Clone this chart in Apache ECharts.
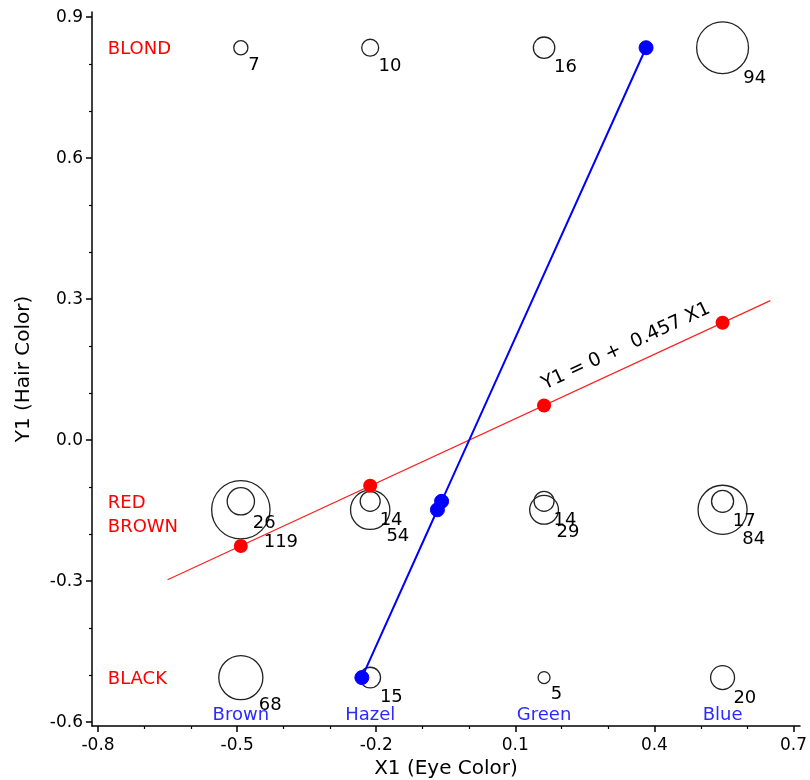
<!DOCTYPE html>
<html>
<head>
<meta charset="utf-8">
<script src="https://cdn.jsdelivr.net/npm/echarts@6/dist/echarts.min.js"></script>
<style>
html, body { margin: 0; padding: 0; background: #fff; }
#chart_01 { width: 810px; height: 780px; }
</style>
</head>
<body>
<div id="chart_01"></div>
<script>
'use strict';

// eye colour (X1) and hair colour (Y1) scores
var eyeNames = ['Brown', 'Hazel', 'Green', 'Blue'],
    eyeScore = [-0.492, -0.213, 0.162, 0.547],
    hairNames = ['BLACK', 'BROWN', 'RED', 'BLOND'],
    hairScore = [-0.505, -0.148, -0.130, 0.835];

// counts per hair colour, in eye order Brown, Hazel, Green, Blue
var countBlack = [68, 15, 5, 20],
    countBrown = [119, 54, 29, 84],
    countRed = [26, 14, 14, 17],
    countBlond = [7, 10, 16, 94];

// red dots: mean Y1 for each eye colour, blue dots: mean X1 for each hair colour
var hairMeanByEye = [-0.225, -0.097, 0.074, 0.250],
    eyeMeanByHair = [-0.231, -0.068, -0.059, 0.382];

// regression line Y1 = 0 + 0.457 X1
var fitX = [-0.65, 0.65],
    fitY = [-0.297, 0.297],
    eqText = 'Y1 = 0 +  0.457 X1';

var xTicks = [-0.8, -0.5, -0.2, 0.1, 0.4, 0.7],
    xMinor = [-0.7, -0.6, -0.4, -0.3, -0.1, 0.0, 0.2, 0.3, 0.5, 0.6],
    yTicks = [-0.6, -0.3, 0.0, 0.3, 0.6, 0.9],
    yMinor = [-0.5, -0.4, -0.2, -0.1, 0.1, 0.2, 0.4, 0.5, 0.7, 0.8];

var FONT = 'DejaVu Sans';
var counts = [countBlack, countBrown, countRed, countBlond];

var bubbleData = [];
counts.forEach(function (row, i) {
    row.forEach(function (n, j) {
        bubbleData.push([eyeScore[j], hairScore[i], n]);
    });
});

var fitData = fitX.map(function (x, i) { return [x, fitY[i]]; });
var redDots = eyeScore.map(function (x, j) { return [x, hairMeanByEye[j]]; });
var blueDots = hairScore.map(function (y, i) { return [eyeMeanByHair[i], y]; });

var hairLabelX = -0.78,
    eyeLabelY = -0.585,
    eqAnchor = [0.356, 0.163];

var hairLabelData = hairNames.map(function (name, i) {
    return {
        value: [hairLabelX, hairScore[i]],
        name: name,
        label: { offset: [0, name === 'BROWN' ? 18 : 2] }
    };
});
var eyeLabelData = eyeNames.map(function (name, j) {
    return { value: [eyeScore[j], eyeLabelY], name: name };
});

var chart_01 = echarts.init(document.getElementById('chart_01'));

var option = {
    animation: false,
    backgroundColor: '#fff',
    textStyle: { fontFamily: FONT },
    grid: {
        left: 92,
        right: 10,
        top: 12,
        bottom: 54,
        containLabel: false,
        outerBoundsMode: 'none'
    },
    xAxis: [{
        type: 'value',
        min: -0.813,
        max: 0.714,
        position: 'bottom',
        splitLine: { show: false },
        axisLine: { show: true, onZero: false, lineStyle: { color: '#000', width: 1.5 } },
        axisTick: { show: true, customValues: xTicks, length: 6, lineStyle: { color: '#000', width: 1.5 } },
        axisLabel: {
            show: true,
            customValues: xTicks,
            margin: 11,
            color: '#000',
            fontSize: 17,
            fontFamily: FONT,
            formatter: function (v) { return v.toFixed(1); }
        },
        name: 'X1 (Eye Color)',
        nameLocation: 'middle',
        nameGap: 33,
        nameTextStyle: { color: '#000', fontSize: 20, fontFamily: FONT }
    }, {
        type: 'value',
        min: -0.813,
        max: 0.714,
        position: 'bottom',
        splitLine: { show: false },
        axisLine: { show: false, onZero: false },
        axisTick: { show: true, customValues: xMinor, length: 3, lineStyle: { color: '#000', width: 1.2 } },
        axisLabel: { show: false }
    }],
    yAxis: [{
        type: 'value',
        min: -0.608,
        max: 0.911,
        position: 'left',
        splitLine: { show: false },
        axisLine: { show: true, onZero: false, lineStyle: { color: '#000', width: 1.5 } },
        axisTick: { show: true, customValues: yTicks, length: 6, lineStyle: { color: '#000', width: 1.5 } },
        axisLabel: {
            show: true,
            customValues: yTicks,
            margin: 9,
            color: '#000',
            fontSize: 17,
            fontFamily: FONT,
            formatter: function (v) { return v.toFixed(1); }
        },
        name: 'Y1 (Hair Color)',
        nameLocation: 'middle',
        nameGap: 58,
        nameTextStyle: { color: '#000', fontSize: 20, fontFamily: FONT }
    }, {
        type: 'value',
        min: -0.608,
        max: 0.911,
        position: 'left',
        splitLine: { show: false },
        axisLine: { show: false, onZero: false },
        axisTick: { show: true, customValues: yMinor, length: 3, lineStyle: { color: '#000', width: 1.2 } },
        axisLabel: { show: false }
    }],
    series: [{
        name: 'counts',
        type: 'scatter',
        symbol: 'circle',
        symbolSize: function (val) { return 5.35 * Math.sqrt(val[2]); },
        itemStyle: { color: 'rgba(0,0,0,0)', borderColor: '#222', borderWidth: 1.3, opacity: 1 },
        label: {
            show: true,
            position: ['85%', '85%'],
            align: 'left',
            verticalAlign: 'top',
            offset: [2, 3],
            color: '#000',
            fontSize: 18,
            fontFamily: FONT,
            formatter: function (p) { return p.value[2]; }
        },
        data: bubbleData,
        z: 2
    }, {
        name: 'fit',
        type: 'line',
        showSymbol: false,
        symbol: 'none',
        lineStyle: { color: '#ff2020', width: 1.2 },
        data: fitData,
        z: 3
    }, {
        name: 'hairMean',
        type: 'line',
        symbol: 'circle',
        symbolSize: 14,
        itemStyle: { color: '#0000ff', borderColor: '#0000ff', opacity: 1 },
        lineStyle: { color: '#0000ff', width: 2 },
        data: blueDots,
        z: 4
    }, {
        name: 'eyeMean',
        type: 'scatter',
        symbol: 'circle',
        symbolSize: 14,
        itemStyle: { color: '#ff0000', opacity: 1 },
        data: redDots,
        z: 5
    }, {
        name: 'hairNames',
        type: 'scatter',
        symbolSize: 1,
        itemStyle: { color: 'rgba(0,0,0,0)', opacity: 1 },
        label: {
            show: true,
            position: 'right',
            distance: 0,
            color: '#ff0000',
            fontSize: 18,
            fontFamily: FONT,
            formatter: '{b}'
        },
        data: hairLabelData,
        z: 6
    }, {
        name: 'eyeNames',
        type: 'scatter',
        symbolSize: 1,
        itemStyle: { color: 'rgba(0,0,0,0)', opacity: 1 },
        label: {
            show: true,
            position: 'inside',
            color: '#2b2bff',
            fontSize: 18,
            fontFamily: FONT,
            formatter: '{b}'
        },
        data: eyeLabelData,
        z: 6
    }, {
        name: 'equation',
        type: 'scatter',
        symbolSize: 1,
        itemStyle: { color: 'rgba(0,0,0,0)', opacity: 1 },
        label: {
            show: true,
            position: 'inside',
            rotate: 24.9,
            offset: [0, -19],
            color: '#000',
            fontSize: 19,
            fontFamily: FONT,
            formatter: eqText
        },
        data: [eqAnchor],
        z: 6
    }]
};

chart_01.setOption(option);
</script>
</body>
</html>
